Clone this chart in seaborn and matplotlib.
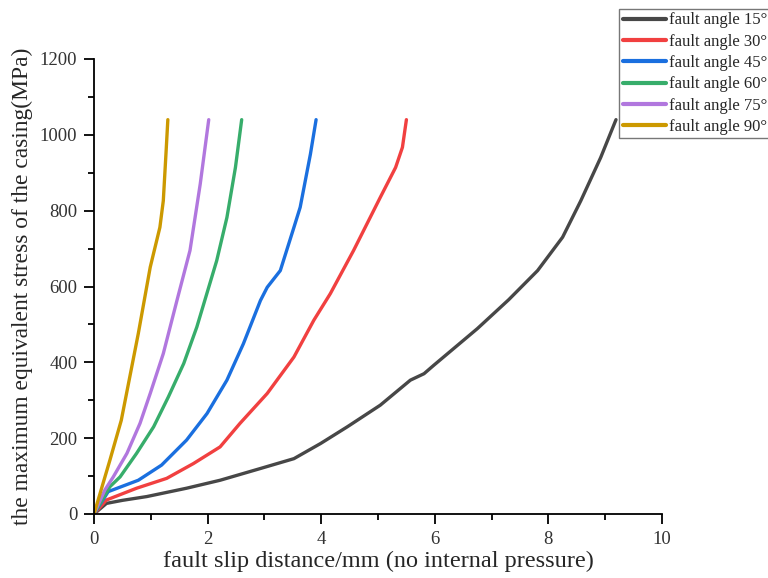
import matplotlib
matplotlib.use("Agg")
import matplotlib.pyplot as plt
import seaborn as sns
import pandas as pd
from matplotlib.ticker import MultipleLocator

# ---- data ----
labels = ["fault angle 15°", "fault angle 30°", "fault angle 45°",
          "fault angle 60°", "fault angle 75°", "fault angle 90°"]
colors = ["#474747", "#F14040", "#1A6FDF", "#37AD6B", "#B177DE", "#CC9900"]

x15 = [0, 0.22, 0.50, 0.93, 1.63, 2.22, 2.93, 3.52, 3.99, 4.46, 5.04, 5.57, 5.81, 5.98, 6.75, 7.30, 7.81, 8.25, 8.57, 8.92, 9.19]
y15 = [0, 28, 36, 46, 68, 89, 120, 146, 186, 230, 287, 353, 370, 392, 489, 565, 642, 730, 826, 940, 1040]

x30 = [0, 0.22, 0.75, 1.28, 1.75, 2.22, 2.57, 3.05, 3.52, 3.87, 4.16, 4.57, 5.04, 5.31, 5.43, 5.50]
y30 = [0, 37, 68, 94, 133, 177, 239, 318, 414, 511, 581, 695, 835, 914, 967, 1040]

x45 = [0, 0.25, 0.78, 1.19, 1.63, 1.99, 2.34, 2.63, 2.93, 3.05, 3.28, 3.52, 3.63, 3.81, 3.91]
y45 = [0, 59, 89, 129, 195, 265, 353, 449, 563, 598, 642, 756, 809, 949, 1040]

x60 = [0, 0.28, 0.46, 0.75, 1.05, 1.31, 1.58, 1.81, 2.02, 2.16, 2.34, 2.49, 2.60]
y60 = [0, 72, 98, 160, 230, 309, 397, 493, 598, 668, 782, 914, 1040]

x75 = [0, 0.19, 0.34, 0.58, 0.81, 0.99, 1.22, 1.46, 1.69, 1.87, 2.02]
y75 = [0, 63, 98, 160, 239, 318, 423, 563, 695, 870, 1040]

x90 = [0, 0.28, 0.48, 0.78, 0.99, 1.16, 1.22, 1.27, 1.30]
y90 = [0, 142, 247, 476, 651, 756, 826, 958, 1040]

xs = [x15, x30, x45, x60, x75, x90]
ys = [y15, y30, y45, y60, y75, y90]

frames = []
for lab, xv, yv in zip(labels, xs, ys):
    frames.append(pd.DataFrame({"x": xv, "y": yv, "series": lab}))
df = pd.concat(frames, ignore_index=True)

# ---- style ----
sns.set_theme(style="ticks")
plt.rcParams["font.family"] = ["Liberation Serif", "DejaVu Serif"]

fig = plt.figure(figsize=(7.68, 5.78), dpi=100)
ax = fig.add_axes([94 / 768, 1 - 514 / 578, (662 - 94) / 768, (514 - 59) / 578])

sns.lineplot(data=df, x="x", y="y", hue="series", hue_order=labels,
             palette=colors, sort=False, estimator=None, units="series",
             linewidth=2.4, ax=ax, legend=True)

ax.set_xlim(0, 10)
ax.set_ylim(0, 1200)
ax.xaxis.set_major_locator(MultipleLocator(2))
ax.xaxis.set_minor_locator(MultipleLocator(1))
ax.yaxis.set_major_locator(MultipleLocator(200))
ax.yaxis.set_minor_locator(MultipleLocator(100))
ax.tick_params(which="major", direction="out", length=7, width=1.3,
               labelsize=13.5, colors="black", labelcolor="#333333", pad=5)
ax.tick_params(which="minor", direction="out", length=4, width=1.3, colors="black")
for s in ["left", "bottom"]:
    ax.spines[s].set_linewidth(1.3)
    ax.spines[s].set_color("black")
sns.despine(ax=ax)

ax.set_xlabel("fault slip distance/mm (no internal pressure)", fontsize=17.5, labelpad=2)
ax.set_ylabel("the maximum equivalent stress of the casing(MPa)", fontsize=16.9, labelpad=5)

ax.get_legend().remove()
handles, labs = ax.get_legend_handles_labels()
for h in handles:
    h.set_linewidth(3)
leg = fig.legend(handles, labs, loc="upper right", bbox_to_anchor=(771 / 768, 1 - 9 / 578),
                 fontsize=12, frameon=True, fancybox=False, handlelength=2.6,
                 handletextpad=0.2, labelspacing=0.32, borderpad=0.2,
                 borderaxespad=0.0)
leg.get_frame().set_edgecolor("#555555")
leg.get_frame().set_linewidth(1.0)

fig.savefig("out.png", dpi=100)
